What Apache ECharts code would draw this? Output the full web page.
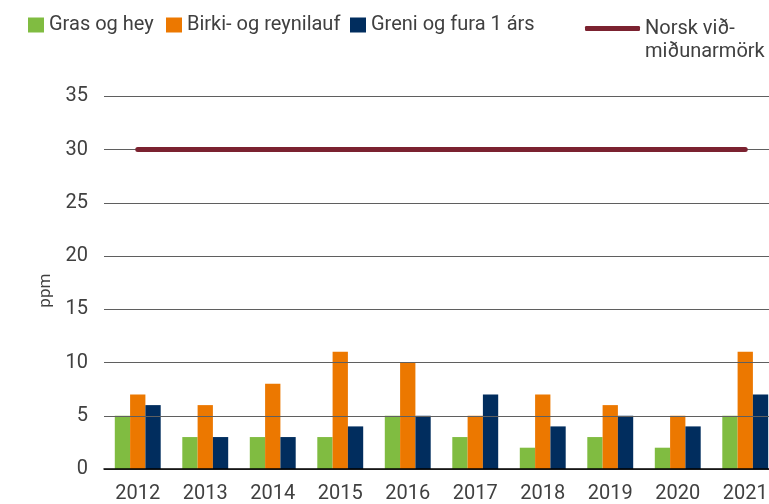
<!DOCTYPE html>
<html><head><meta charset="utf-8">
<script src="https://cdn.jsdelivr.net/npm/echarts@6/dist/echarts.min.js"></script>
<style>html,body{margin:0;padding:0;background:#fff}#c{width:769px;height:504px}</style>
</head><body><div id="c"></div>
<script>
const categories = ['2012','2013','2014','2015','2016','2017','2018','2019','2020','2021'];
const grasOgHey = [5,3,3,3,5,3,2,3,2,5];
const birkiOgReynilauf = [7,6,8,11,10,5,7,6,5,11];
const greniOgFura = [6,3,3,4,5,7,4,5,4,7];
const norskVidmidun = [30,30,30,30,30,30,30,30,30,30];
const yTicks = [0,5,10,15,20,25,30,35];
const seriesNames = ['Gras og hey','Birki- og reynilauf','Greni og fura 1 árs','Norsk við-\nmiðunarmörk'];

const font = 'Roboto';
const txt = '#404040';
const chart = echarts.init(document.getElementById('c'));
function leg(name, left, extra) {
  return Object.assign({
    data: [name], left: left, top: 15, padding: 0, orient: 'horizontal',
    icon: 'rect', itemWidth: 16, itemHeight: 15, itemGap: 0, selectedMode: false,
    textStyle: {fontFamily: font, fontSize: 20, color: txt, lineHeight: 20}
  }, extra || {});
}
chart.setOption({
  animation: false,
  legend: [
    leg(seriesNames[0], 28),
    leg(seriesNames[1], 166),
    leg(seriesNames[2], 350),
    leg(seriesNames[3], 585, {top: -6, icon: 'roundRect', itemWidth: 55, itemHeight: 5,
      formatter: n => ' \n' + n,
      textStyle: {fontFamily: font, fontSize: 20, color: txt, lineHeight: 23}})
  ],
  grid: {left: 104, width: 675, top: 96.3, height: 372.7, containLabel: false, outerBoundsMode: 'none'},
  xAxis: {
    type: 'category', data: categories,
    axisLine: {show: true, lineStyle: {color: '#000', width: 1.5}},
    axisTick: {show: false},
    axisLabel: {fontFamily: font, fontSize: 20, color: txt, margin: 15},
    z: 4
  },
  yAxis: {
    type: 'value', min: 0, max: 35, interval: 5,
    name: 'ppm', nameLocation: 'middle', nameGap: 50, nameRotate: 90,
    nameTextStyle: {fontFamily: font, fontSize: 17, color: txt, padding: [0,16,0,0]},
    axisLine: {show: false}, axisTick: {show: false},
    axisLabel: {fontFamily: font, fontSize: 20, color: txt, margin: 16,
      formatter: v => yTicks.includes(v) ? String(v) : ''},
    splitLine: {show: true, lineStyle: {color: '#5f5f5f', width: 1.2}},
    z: 3
  },
  series: [
    {name: seriesNames[0], type: 'bar', data: grasOgHey, barGap: '0%', barCategoryGap: '32%', itemStyle: {color: '#80bc41'}, z: 2},
    {name: seriesNames[1], type: 'bar', data: birkiOgReynilauf, itemStyle: {color: '#ec7800'}, z: 2},
    {name: seriesNames[2], type: 'bar', data: greniOgFura, itemStyle: {color: '#012d5e'}, z: 2},
    {name: seriesNames[3], type: 'line', data: norskVidmidun, showSymbol: false, symbol: 'none',
      lineStyle: {color: '#7b2230', width: 5, cap: 'round'}, itemStyle: {color: '#7b2230'}, z: 6}
  ]
});
</script></body></html>
